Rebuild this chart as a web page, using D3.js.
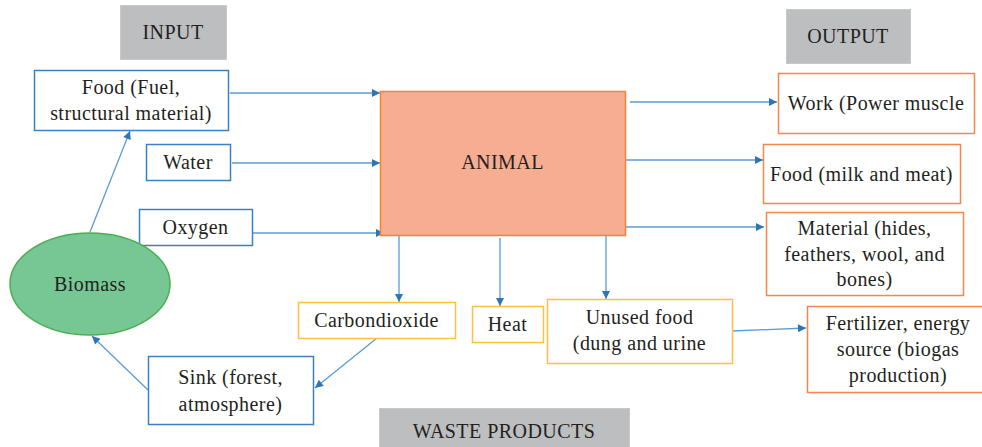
<!DOCTYPE html>
<html><head><meta charset="utf-8">
<script src="https://cdn.jsdelivr.net/npm/d3@7/dist/d3.min.js"></script>
<style>html,body{margin:0;padding:0;background:#fff;}svg{display:block;}</style>
</head><body>
<svg id="c" width="982" height="447"></svg>
<script>
// ---- content ----
const headerLabels = ["INPUT", "OUTPUT", "WASTE PRODUCTS"];
const inputLabels = [["Food (Fuel,", "structural material)"], ["Water"], ["Oxygen"]];
const outputLabels = [["Work (Power muscle"], ["Food (milk and meat)"], ["Material (hides,", "feathers, wool, and", "bones)"]];
const wasteLabels = [["Carbondioxide"], ["Heat"], ["Unused food", "(dung and urine"]];
const centerLabel = ["ANIMAL"];
const cycleLabels = [["Biomass"], ["Sink (forest,", "atmosphere)"], ["Fertilizer, energy", "source (biogas", "production)"]];

// ---- layout (pixel geometry) ----
const headerBoxes = [[120,5,106,54],[786,9,124,54],[379,408,250,45]];
const inputBoxes = [[34,70,194,60],[146,144,84,36],[139,209,113,36]];
const outputBoxes = [[778,73,196,60],[763,144,197,59],[766,212,197,83]];
const wasteBoxes = [[298,302,157,36],[472,306,71,36],[547,299,185,64]];
const animalBox = [380,91,245,144];
const sinkBox = [148,356,165,68];
const fertBox = [807,306,182,86];
const biomass = {cx:90, cy:284, rx:80, ry:51};
const arrows = [
  [230,93,380,93],[232,163,380,163],[253,233,384,233],
  [630,102,777,102],[625,160,763,160],[622,227,764,227],
  [399,236,399,302],[500,238,500,306],[606,236,606,299],
  [732,331,806,328],
  [90,232,130,131],[148,390,92,336],[377,338,315,388]
];

const svg = d3.select("#c");
const FONT = "'Liberation Serif','Times New Roman',serif";
const TXT = "#231f20";
const LS = 0.45;

const defs = svg.append("defs");
defs.append("marker").attr("id","ah").attr("viewBox","0 0 10 10").attr("refX",10).attr("refY",5)
  .attr("markerWidth",10).attr("markerHeight",8).attr("markerUnits","userSpaceOnUse").attr("orient","auto")
  .append("path").attr("d","M0,0L10,5L0,10Z").attr("fill","#2e75b6");

function box(b, lines, opt){
  const g = svg.append("g");
  g.append("rect").attr("x",b[0]+0.5).attr("y",b[1]+0.5).attr("width",b[2]).attr("height",b[3])
    .attr("fill",opt.fill||"#fff").attr("stroke",opt.stroke||"none").attr("stroke-width",opt.sw||1.5);
  const lh = opt.lh||25.5;
  const cx = b[0]+b[2]/2 + (opt.dx||0), cy = b[1]+b[3]/2 + (opt.dy||0);
  const y0 = cy - (lines.length-1)*lh/2;
  g.selectAll("text").data(lines).join("text")
    .attr("x",cx).attr("y",(d,i)=>y0+i*lh).attr("dy","0.35em")
    .attr("text-anchor","middle").attr("font-family",FONT).attr("font-size",opt.fs||20)
    .attr("letter-spacing",LS).attr("fill",TXT).text(d=>d);
}

svg.selectAll("line.arr").data(arrows).join("line").attr("class","arr")
  .attr("x1",d=>d[0]).attr("y1",d=>d[1]).attr("x2",d=>d[2]).attr("y2",d=>d[3])
  .attr("stroke","#5b9bd5").attr("stroke-width",1.3).attr("marker-end","url(#ah)");

headerLabels.forEach((t,i)=>box(headerBoxes[i],[t],{fill:"#bdbec0",stroke:"#c8c9cb",sw:1}));
inputLabels.forEach((l,i)=>box(inputBoxes[i],l,{stroke:"#3a80c3"}));
outputLabels.forEach((l,i)=>box(outputBoxes[i],l,{stroke:"#f4874b"}));
wasteLabels.forEach((l,i)=>box(wasteBoxes[i],l,{stroke:"#ffc03f",dy:i===2?-1:0}));
box(animalBox,centerLabel,{fill:"#f7ad91",stroke:"#f58233",dy:-1});
box(sinkBox,cycleLabels[1],{stroke:"#3a80c3",lh:27});
box(fertBox,cycleLabels[2],{stroke:"#f4874b",dx:0,lh:26});

svg.append("ellipse").attr("cx",biomass.cx).attr("cy",biomass.cy).attr("rx",biomass.rx).attr("ry",biomass.ry)
  .attr("fill","#76c794").attr("stroke","#4cae4f").attr("stroke-width",1.5);
svg.append("text").attr("x",biomass.cx).attr("y",biomass.cy).attr("dy","0.35em").attr("text-anchor","middle")
  .attr("font-family",FONT).attr("font-size",20).attr("letter-spacing",LS).attr("fill",TXT).text(cycleLabels[0][0]);
</script>
</body></html>
